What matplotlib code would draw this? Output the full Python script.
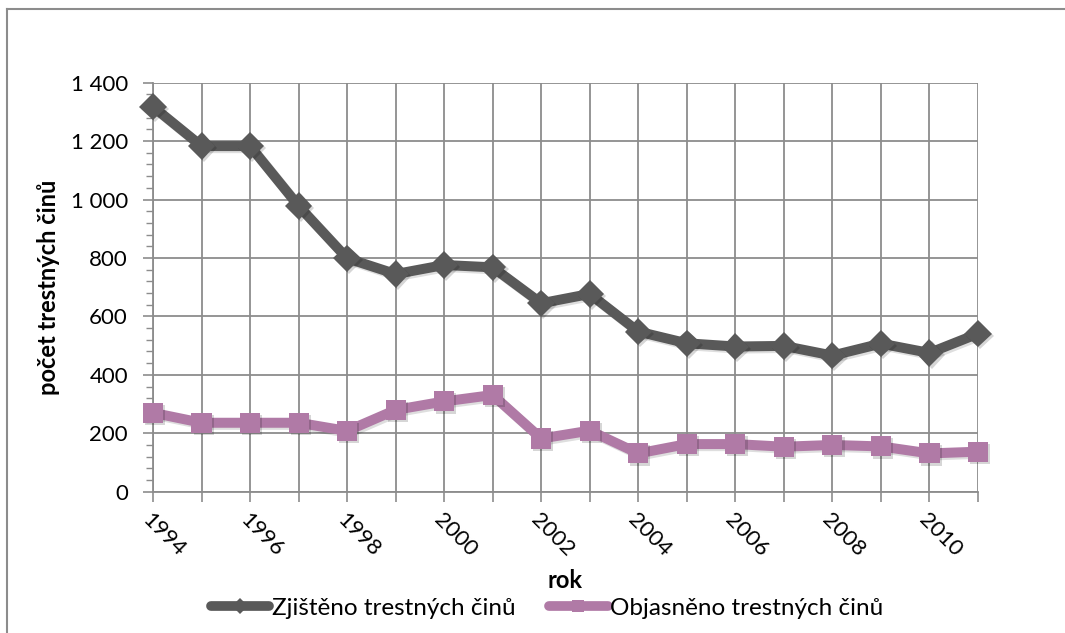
import matplotlib
matplotlib.use('Agg')
import matplotlib.pyplot as plt
import matplotlib.patheffects as pe
from matplotlib.ticker import MultipleLocator, FuncFormatter
from matplotlib.lines import Line2D

plt.rcParams['font.family'] = ['Lato', 'DejaVu Sans']

# data
roky = list(range(1994, 2012))
zjisteno = [1318, 1183, 1183, 978, 799, 745, 776, 768, 645, 677, 548, 508, 497, 499, 466, 507, 475, 541]
objasneno = [270, 236, 236, 236, 208, 280, 309, 331, 182, 209, 131, 163, 163, 154, 160, 155, 131, 137]

seda = '#595959'
ruzova = '#B07AA6'

fig = plt.figure(figsize=(10.65, 6.33), dpi=100)
ax = fig.add_axes([153 / 1065, 1 - 491.7 / 633, (978 - 153) / 1065, (491.7 - 82.7) / 633])

stin_cara = [pe.SimpleLineShadow(offset=(1.5, -1.5), alpha=0.13, shadow_color='black'), pe.Normal()]
stin_znacka = [pe.SimplePatchShadow(offset=(1.5, -1.5), alpha=0.16, shadow_rgbFace='black'), pe.Normal()]

# cary
ax.plot(roky, zjisteno, color=seda, lw=7.2, zorder=4, clip_on=False, path_effects=stin_cara)
ax.plot(roky, objasneno, color=ruzova, lw=7.2, zorder=3, clip_on=False, path_effects=stin_cara)
# znacky
ax.plot(roky, zjisteno, ls='none', color=seda, marker='D', ms=14, mew=0, zorder=5,
        clip_on=False, path_effects=stin_znacka)
ax.plot(roky, objasneno, ls='none', color=ruzova, marker='s', ms=14.5, mew=0, zorder=4,
        clip_on=False, path_effects=stin_znacka)

ax.set_xlim(1994, 2011)
ax.set_ylim(0, 1400)
ax.yaxis.set_major_locator(MultipleLocator(200))
ax.yaxis.set_minor_locator(MultipleLocator(40))
ax.yaxis.set_major_formatter(FuncFormatter(lambda v, p: '{:,}'.format(int(v)).replace(',', ' ')))
ax.set_xticks(roky)
ax.set_xticklabels([str(r) if r % 2 == 0 else '' for r in roky],
                   rotation=-45, ha='left', va='top', rotation_mode='anchor')
ax.grid(True, which='major', color='#8c8c8c', lw=1.3)
ax.set_axisbelow(True)

for s in ['top', 'right']:
    ax.spines[s].set_visible(False)
for s in ['left', 'bottom']:
    ax.spines[s].set_color('#8c8c8c')
    ax.spines[s].set_linewidth(1.3)

ax.tick_params(axis='both', which='major', direction='out', length=7, color='#8c8c8c',
               width=1.2, labelsize=16, labelcolor='black')
ax.tick_params(axis='y', which='minor', direction='out', length=5, color='#8c8c8c', width=1.0)
ax.tick_params(axis='x', pad=6)
ax.tick_params(axis='y', pad=11)

ax.set_ylabel('počet trestných činů', fontsize=17, fontweight='bold', labelpad=8)
fig.text(565 / 1065, 1 - 580 / 633, 'rok', fontsize=17, fontweight='bold', ha='center', va='center')

h1 = Line2D([], [], color=seda, lw=7, marker='D', ms=8, mew=0, solid_capstyle='round')
h2 = Line2D([], [], color=ruzova, lw=7, marker='s', ms=9, mew=0, solid_capstyle='round')
fig.legend([h1, h2], ['Zjištěno trestných činů', 'Objasněno trestných činů'],
           loc='center', bbox_to_anchor=(547 / 1065, 1 - 608 / 633), ncol=2, frameon=False,
           fontsize=17.5, handlelength=2.4, handletextpad=0.1, columnspacing=1.4,
           borderpad=0, borderaxespad=0)

# ramecek grafu
fig.add_artist(Line2D([7 / 1065, 7 / 1065], [0, 1 - 9 / 633], transform=fig.transFigure, color='#8c8c8c', lw=1.5))
fig.add_artist(Line2D([7 / 1065, 1], [1 - 9 / 633, 1 - 9 / 633], transform=fig.transFigure, color='#8c8c8c', lw=1.5))

fig.savefig('out.png', dpi=100)
